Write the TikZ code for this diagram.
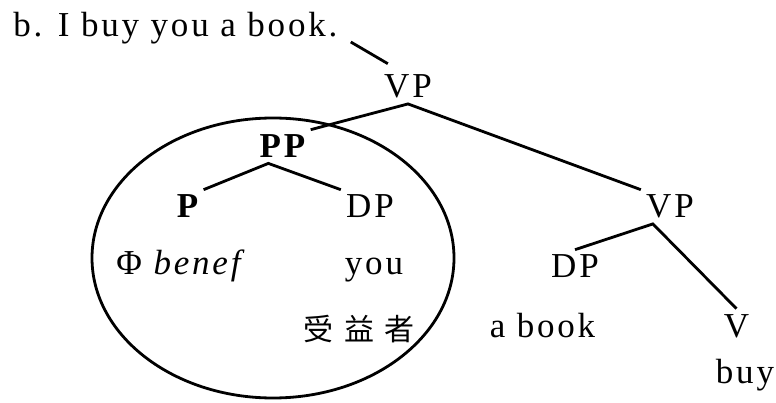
\documentclass[tikz,border=0pt]{standalone}
\usepackage{fontspec}
\setmainfont[LetterSpace=8]{Liberation Serif}
\newfontfamily\cjk[LetterSpace=35]{Noto Sans CJK SC}
\begin{document}
\begin{tikzpicture}[x=1pt,y=-1pt,line width=2.8pt,
  lbl/.style={inner sep=4pt,anchor=base,font=\fontsize{35}{40}\selectfont}]
\useasboundingbox (0,0) rectangle (776,403);
\node[lbl,anchor=base west] (ex) at (8,37) {b. I buy you a book.};
% upper VP and the benefactive PP
\node[lbl] (vp) at (408,98) {VP};
\node[lbl] (pp) at (282.5,158) {\bfseries PP};
\node[lbl] (p) at (187.5,218) {\bfseries P};
\node[lbl] (dp) at (370,218) {DP};
\node[lbl,anchor=base west] (ben) at (111,275) {Φ \textit{benef}};
\node[lbl] (you) at (374,275) {you};
\node[lbl,font=\fontsize{30}{36}\cjk] (rec) at (359,340) {受益者};
% lower VP
\node[lbl] (vpb) at (670,218) {VP};
\node[lbl] (dpb) at (575,278) {DP};
\node[lbl] (book) at (542.5,337) {a book};
\node[lbl] (v) at (736.5,337) {V};
\node[lbl] (buy) at (745,383) {buy};
\draw ([xshift=8pt,yshift=-5pt]ex.base east) -- ([xshift=9pt,yshift=6pt]vp.north west);
\draw (pp.north east) -- (vp.south) -- (vpb.north west);
\draw (p.north east) -- (pp.-130) -- (dp.north west);
\draw (dpb.north) -- (vpb.-135) -- (v.north);
\draw (273,258) ellipse [x radius=181,y radius=140];
\end{tikzpicture}
\end{document}
